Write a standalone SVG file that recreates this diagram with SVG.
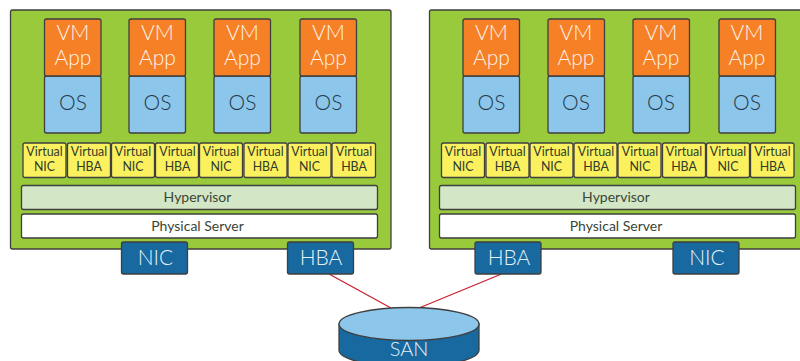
<svg xmlns="http://www.w3.org/2000/svg" width="800" height="361" viewBox="0 0 800 361">
<defs><style>
text{font-family:Lato,"Open Sans","Liberation Sans",sans-serif;text-anchor:middle;font-weight:300}
rect,ellipse,.can{stroke:#3f3f3f;stroke-width:1.3}
.srv{fill:#99ca3c}
.app{fill:#f58025}
.os{fill:#8cc6ea}
.v{fill:#fbf15f}
.hv{fill:#d3e7c7}
.ps{fill:#fff}
.card{fill:#17699f}
.tw{fill:#fff2ea;font-size:21px}
.tos{fill:#24394a;font-size:21px}
.tv{fill:#2f3a2a;font-size:12.4px;font-weight:400}
.tb{fill:#3a4636;font-size:14px;font-weight:400}
.tc{fill:#e4f2fb;font-size:21px}
.link{stroke:#c8202f;stroke-width:1.3;fill:none}
</style></defs>

<g id="server-left">
<rect class="srv" x="10.5" y="10" width="380.5" height="239" rx="2"/>
<g id="vm-l1"><rect class="os" x="44.5" y="76" width="56.5" height="57" rx="2"/><rect class="app" x="44.5" y="19" width="56.5" height="57" rx="2"/><text class="tw" x="73" y="40">VM</text><text class="tw" x="73" y="65">App</text><text class="tos" x="73" y="110">OS</text></g>
<g id="vm-l2"><rect class="os" x="129" y="76" width="56.5" height="57" rx="2"/><rect class="app" x="129" y="19" width="56.5" height="57" rx="2"/><text class="tw" x="157.500" y="40">VM</text><text class="tw" x="157.500" y="65">App</text><text class="tos" x="157.500" y="110">OS</text></g>
<g id="vm-l3"><rect class="os" x="214" y="76" width="56.500" height="57" rx="2"/><rect class="app" x="214" y="19" width="56.500" height="57" rx="2"/><text class="tw" x="242.500" y="40">VM</text><text class="tw" x="242.500" y="65">App</text><text class="tos" x="242.500" y="110">OS</text></g>
<g id="vm-l4"><rect class="os" x="300" y="76" width="56.500" height="57" rx="2"/><rect class="app" x="300" y="19" width="56.500" height="57" rx="2"/><text class="tw" x="328.500" y="40">VM</text><text class="tw" x="328.500" y="65">App</text><text class="tos" x="328.500" y="110">OS</text></g>
<g id="vnics-l">
<rect class="v" x="23" y="143" width="43" height="34.500" rx="2"/><text class="tv" x="44.500" y="156">Virtual</text><text class="tv" x="44.500" y="171">NIC</text>
<rect class="v" x="67.500" y="143" width="43" height="34.500" rx="2"/><text class="tv" x="89" y="156">Virtual</text><text class="tv" x="89" y="171">HBA</text>
<rect class="v" x="111.500" y="143" width="43" height="34.500" rx="2"/><text class="tv" x="133" y="156">Virtual</text><text class="tv" x="133" y="171">NIC</text>
<rect class="v" x="155.500" y="143" width="43" height="34.500" rx="2"/><text class="tv" x="177.500" y="156">Virtual</text><text class="tv" x="177.500" y="171">HBA</text>
<rect class="v" x="199.500" y="143" width="43" height="34.500" rx="2"/><text class="tv" x="221" y="156">Virtual</text><text class="tv" x="221" y="171">NIC</text>
<rect class="v" x="244" y="143" width="43" height="34.500" rx="2"/><text class="tv" x="265.500" y="156">Virtual</text><text class="tv" x="265.500" y="171">HBA</text>
<rect class="v" x="288" y="143" width="43" height="34.500" rx="2"/><text class="tv" x="309.500" y="156">Virtual</text><text class="tv" x="309.500" y="171">NIC</text>
<rect class="v" x="332" y="143" width="43.500" height="34.500" rx="2"/><text class="tv" x="354" y="156">Virtual</text><text class="tv" x="354" y="171">HBA</text>
</g>
<g id="hypervisor-l"><rect class="hv" x="21.500" y="185.500" width="356" height="24" rx="2"/><text class="tb" x="197.500" y="202">Hypervisor</text></g>
<g id="physical-l"><rect class="ps" x="21.500" y="214" width="356" height="24" rx="2"/><text class="tb" x="197.500" y="230.500">Physical Server</text></g>
</g>

<g id="server-right">
<rect class="srv" x="429.500" y="10" width="380" height="239" rx="2"/>
<g id="vm-r1"><rect class="os" x="463" y="76" width="56.500" height="57" rx="2"/><rect class="app" x="463" y="19" width="56.500" height="57" rx="2"/><text class="tw" x="491.500" y="40">VM</text><text class="tw" x="491.500" y="65">App</text><text class="tos" x="491.500" y="110">OS</text></g>
<g id="vm-r2"><rect class="os" x="548" y="76" width="56.500" height="57" rx="2"/><rect class="app" x="548" y="19" width="56.500" height="57" rx="2"/><text class="tw" x="576" y="40">VM</text><text class="tw" x="576" y="65">App</text><text class="tos" x="576" y="110">OS</text></g>
<g id="vm-r3"><rect class="os" x="633" y="76" width="56.500" height="57" rx="2"/><rect class="app" x="633" y="19" width="56.500" height="57" rx="2"/><text class="tw" x="661" y="40">VM</text><text class="tw" x="661" y="65">App</text><text class="tos" x="661" y="110">OS</text></g>
<g id="vm-r4"><rect class="os" x="719" y="76" width="56.500" height="57" rx="2"/><rect class="app" x="719" y="19" width="56.500" height="57" rx="2"/><text class="tw" x="747" y="40">VM</text><text class="tw" x="747" y="65">App</text><text class="tos" x="747" y="110">OS</text></g>
<g id="vnics-r">
<rect class="v" x="441.500" y="143" width="43" height="34.500" rx="2"/><text class="tv" x="463" y="156">Virtual</text><text class="tv" x="463" y="171">NIC</text>
<rect class="v" x="486" y="143" width="43" height="34.500" rx="2"/><text class="tv" x="507.500" y="156">Virtual</text><text class="tv" x="507.500" y="171">HBA</text>
<rect class="v" x="530" y="143" width="43" height="34.500" rx="2"/><text class="tv" x="551.500" y="156">Virtual</text><text class="tv" x="551.500" y="171">NIC</text>
<rect class="v" x="574" y="143" width="43" height="34.500" rx="2"/><text class="tv" x="596" y="156">Virtual</text><text class="tv" x="596" y="171">HBA</text>
<rect class="v" x="618" y="143" width="43" height="34.500" rx="2"/><text class="tv" x="640" y="156">Virtual</text><text class="tv" x="640" y="171">NIC</text>
<rect class="v" x="662.500" y="143" width="43" height="34.500" rx="2"/><text class="tv" x="684" y="156">Virtual</text><text class="tv" x="684" y="171">HBA</text>
<rect class="v" x="706.500" y="143" width="43" height="34.500" rx="2"/><text class="tv" x="728" y="156">Virtual</text><text class="tv" x="728" y="171">NIC</text>
<rect class="v" x="750.500" y="143" width="43.500" height="34.500" rx="2"/><text class="tv" x="772.500" y="156">Virtual</text><text class="tv" x="772.500" y="171">HBA</text>
</g>
<g id="hypervisor-r"><rect class="hv" x="439.500" y="185.500" width="356" height="24" rx="2"/><text class="tb" x="616" y="202">Hypervisor</text></g>
<g id="physical-r"><rect class="ps" x="439.500" y="214" width="356" height="24" rx="2"/><text class="tb" x="616" y="230.500">Physical Server</text></g>
</g>

<g id="connectors">
<line class="link" x1="329" y1="274" x2="391" y2="308"/>
<line class="link" x1="501.500" y1="274" x2="419" y2="308"/>
</g>

<g id="nic-l"><rect class="card" x="121.500" y="242" width="66" height="32" rx="2"/><text class="tc" x="155.500" y="265">NIC</text></g>
<g id="hba-l"><rect class="card" x="287.500" y="242" width="66" height="32" rx="2"/><text class="tc" x="321" y="265">HBA</text></g>
<g id="hba-r"><rect class="card" x="475" y="242" width="66" height="32" rx="2"/><text class="tc" x="509" y="265">HBA</text></g>
<g id="nic-r"><rect class="card" x="673" y="242" width="66" height="32" rx="2"/><text class="tc" x="707" y="265">NIC</text></g>

<g id="san">
<path class="can card" d="M339 324V350A70 17 0 0 0 479 350V324Z"/>
<ellipse class="os" cx="409" cy="324" rx="70" ry="16.500"/>
<text class="tc" x="409" y="356" style="font-size:20px">SAN</text>
</g>
</svg>
